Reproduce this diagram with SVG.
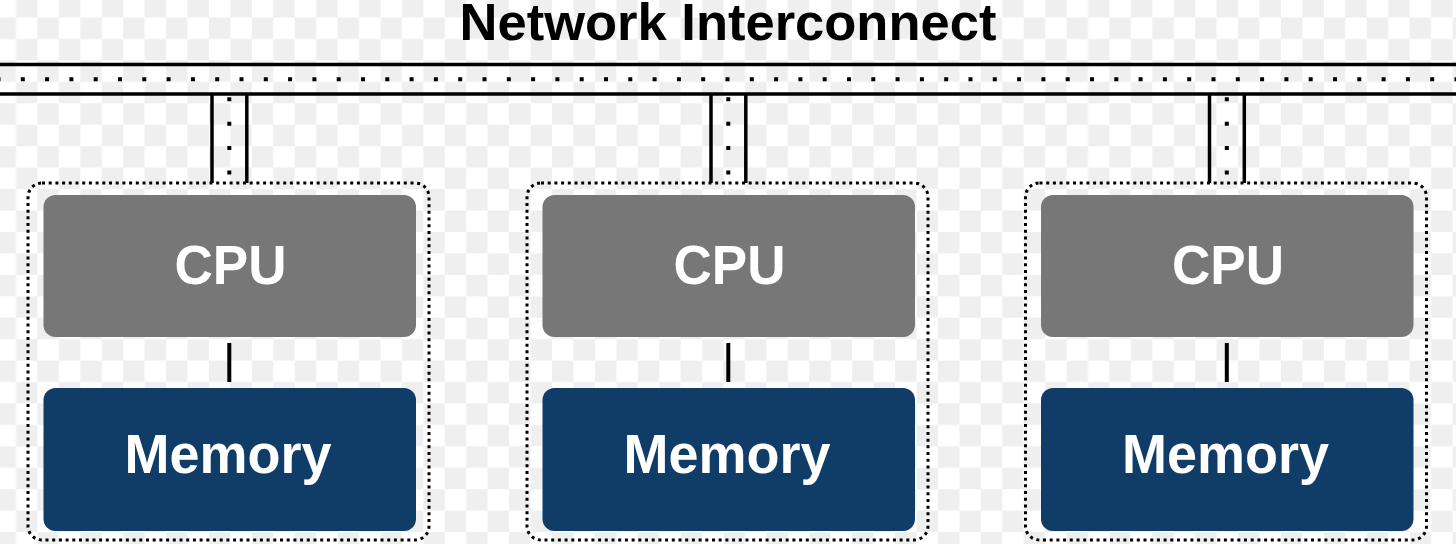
<svg xmlns="http://www.w3.org/2000/svg" width="1456" height="544" viewBox="0 0 1456 544">
  <defs>
    <pattern id="checker" patternUnits="userSpaceOnUse" x="-5.44" y="17.54" width="42.88" height="42.88">
      <rect x="0" y="0" width="42.88" height="42.88" fill="#ffffff"/>
      <rect x="0" y="0" width="21.44" height="21.44" fill="#efefef"/>
      <rect x="21.44" y="21.44" width="21.44" height="21.44" fill="#efefef"/>
    </pattern>
    <style>
      .rail { stroke: #000; stroke-width: 3.5; fill: none; }
      .busdots { stroke: #000; stroke-width: 4; stroke-dasharray: 4 20.3; fill: none; }
      .vdots { stroke: #000; stroke-width: 4; stroke-dasharray: 4 20.4; fill: none; }
      .frame { fill: none; stroke: #000; stroke-width: 3; stroke-dasharray: 3 3.7; }
      .cpu { fill: #777777; }
      .mem { fill: #0f3d68; }
      .link { stroke: #000; stroke-width: 4; }
      .lbl { font-family: "Liberation Sans", Arial, sans-serif; font-weight: bold; fill: #fff; text-anchor: middle; }
      .title { font-family: "Liberation Sans", Arial, sans-serif; font-weight: bold; fill: #000; text-anchor: middle; font-size: 52.5px; }
    </style>
  </defs>
  <rect x="0" y="0" width="1456" height="544" fill="url(#checker)"/>

  <g id="bus">
    <text class="title" x="728" y="39.5">Network Interconnect</text>
    <line class="rail" x1="0" y1="64.5" x2="1456" y2="64.5"/>
    <line class="rail" x1="0" y1="94" x2="1456" y2="94"/>
    <line class="busdots" x1="-3.5" y1="79.3" x2="1456" y2="79.3"/>
  </g>

  <g id="connectors">
    <g transform="translate(0,0)">
      <line class="rail" x1="212" y1="95" x2="212" y2="183"/>
      <line class="rail" x1="246.8" y1="95" x2="246.8" y2="183"/>
      <line class="vdots" x1="229.3" y1="97.3" x2="229.3" y2="182"/>
      <line class="link" x1="229.3" y1="343" x2="229.3" y2="382"/>
    </g>
    <g transform="translate(499,0)">
      <line class="rail" x1="212" y1="95" x2="212" y2="183"/>
      <line class="rail" x1="246.8" y1="95" x2="246.8" y2="183"/>
      <line class="vdots" x1="229.3" y1="97.3" x2="229.3" y2="182"/>
      <line class="link" x1="229.3" y1="343" x2="229.3" y2="382"/>
    </g>
    <g transform="translate(997.5,0)">
      <line class="rail" x1="212" y1="95" x2="212" y2="183"/>
      <line class="rail" x1="246.8" y1="95" x2="246.8" y2="183"/>
      <line class="vdots" x1="229.3" y1="97.3" x2="229.3" y2="182"/>
      <line class="link" x1="229.3" y1="343" x2="229.3" y2="382"/>
    </g>
  </g>

  <g id="node1" transform="translate(0,0)">
    <rect class="frame" x="28" y="183" width="401" height="357" rx="14" ry="14"/>
    <g id="cpu1">
      <rect class="cpu" x="43.5" y="195" width="372.5" height="142" rx="12" ry="12"/>
      <text class="lbl" x="230.5" y="284.3" font-size="55" textLength="112" lengthAdjust="spacingAndGlyphs">CPU</text>
    </g>
    <g id="mem1">
      <rect class="mem" x="43.5" y="388" width="372.5" height="143" rx="12" ry="12"/>
      <text class="lbl" x="228" y="472.8" font-size="55" textLength="207" lengthAdjust="spacingAndGlyphs">Memory</text>
    </g>
  </g>

  <g id="node2" transform="translate(499,0)">
    <rect class="frame" x="28" y="183" width="401" height="357" rx="14" ry="14"/>
    <g id="cpu2">
      <rect class="cpu" x="43.5" y="195" width="372.5" height="142" rx="12" ry="12"/>
      <text class="lbl" x="230.5" y="284.3" font-size="55" textLength="112" lengthAdjust="spacingAndGlyphs">CPU</text>
    </g>
    <g id="mem2">
      <rect class="mem" x="43.5" y="388" width="372.5" height="143" rx="12" ry="12"/>
      <text class="lbl" x="228" y="472.8" font-size="55" textLength="207" lengthAdjust="spacingAndGlyphs">Memory</text>
    </g>
  </g>

  <g id="node3" transform="translate(997.5,0)">
    <rect class="frame" x="28" y="183" width="401" height="357" rx="14" ry="14"/>
    <g id="cpu3">
      <rect class="cpu" x="43.5" y="195" width="372.5" height="142" rx="12" ry="12"/>
      <text class="lbl" x="230.5" y="284.3" font-size="55" textLength="112" lengthAdjust="spacingAndGlyphs">CPU</text>
    </g>
    <g id="mem3">
      <rect class="mem" x="43.5" y="388" width="372.5" height="143" rx="12" ry="12"/>
      <text class="lbl" x="228" y="472.8" font-size="55" textLength="207" lengthAdjust="spacingAndGlyphs">Memory</text>
    </g>
  </g>
</svg>
